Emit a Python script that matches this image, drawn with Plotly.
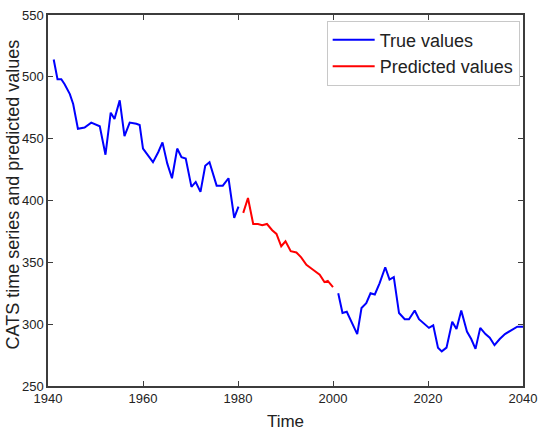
import plotly.graph_objects as go

# True values, first segment
true1_t = [1941.2, 1942.0, 1942.8, 1943.5, 1944.6, 1945.3, 1946.3, 1947.7, 1949.1, 1950.2,
           1950.9, 1952.1, 1953.2, 1954.0, 1955.1, 1956.1, 1957.2, 1958.6, 1959.3, 1960.0,
           1960.8, 1962.1, 1963.2, 1964.1, 1965.1, 1966.1, 1967.2, 1968.1, 1969.0, 1970.2,
           1971.1, 1972.1, 1973.1, 1974.0, 1975.5, 1976.8, 1978.0, 1979.2, 1980.1]
true1_v = [514, 498, 498, 494, 486, 478, 458, 459, 463, 461,
           460, 437, 471, 466, 481, 452, 463, 462, 461, 442,
           438, 431, 439, 447, 430, 418, 442, 435, 434, 411,
           415, 407, 428, 431, 412, 412, 418, 386, 395]

# Predicted values
pred_t = [1981.1, 1982.1, 1983.2, 1984.2, 1985.1, 1986.1, 1987.2, 1988.1, 1989.1, 1990.0,
          1991.1, 1992.3, 1993.3, 1994.4, 1995.8, 1997.2, 1998.2, 1998.9, 2000.0]
pred_v = [390, 402, 381, 381, 380, 381, 376, 373, 363, 367,
          359, 358, 354, 348, 344, 340, 334, 335, 330]

# True values, second segment
true2_t = [2001.1, 2002.0, 2002.9, 2005.1, 2006.0, 2007.0, 2007.9, 2008.8, 2009.8, 2011.0,
           2011.9, 2012.8, 2013.9, 2015.1, 2016.0, 2017.2, 2018.1, 2019.1, 2020.2, 2021.1,
           2022.1, 2022.9, 2023.9, 2025.1, 2026.0, 2027.0, 2028.2, 2029.1, 2030.0, 2031.0,
           2032.1, 2033.0, 2034.0, 2035.1, 2036.2, 2037.5, 2038.8, 2040.0]
true2_v = [325, 309, 310, 292, 313, 317, 325, 324, 333, 346,
           336, 338, 309, 304, 304, 311, 304, 301, 297, 299,
           281, 278, 281, 302, 296, 311, 294, 288, 280, 297,
           292, 289, 283, 288, 292, 295, 298, 298]

x_ticks = [1940, 1960, 1980, 2000, 2020, 2040]
y_ticks = [250, 300, 350, 400, 450, 500, 550]

FONT = "Liberation Sans, Arial, Helvetica, sans-serif"
AX = "#3c3c3c"

fig = go.Figure()
fig.add_trace(go.Scatter(x=true1_t, y=true1_v, mode="lines", name="True values",
                         line=dict(color="#0000ff", width=2), legendgroup="t"))
fig.add_trace(go.Scatter(x=pred_t, y=pred_v, mode="lines", name="Predicted values",
                         line=dict(color="#ff0000", width=2)))
fig.add_trace(go.Scatter(x=true2_t, y=true2_v, mode="lines", name="True values",
                         line=dict(color="#0000ff", width=2), legendgroup="t",
                         showlegend=False))

axis_common = dict(showgrid=False, zeroline=False, showline=True, linecolor=AX, linewidth=1.5,
                   mirror="ticks", ticks="inside", ticklen=5, tickwidth=1, tickcolor=AX,
                   automargin=False,
                   tickfont=dict(family=FONT, size=13, color="#222"))

fig.update_xaxes(range=[1940, 2040], tickvals=x_ticks, ticktext=[str(v) for v in x_ticks],
                 title=dict(text="Time", font=dict(family=FONT, size=17, color="#222"), standoff=10),
                 **axis_common)
fig.update_yaxes(range=[250, 550], tickvals=y_ticks, ticktext=[str(v) for v in y_ticks],
                 **axis_common)

fig.add_annotation(text="CATS time series and predicted values", textangle=-90,
                   xref="paper", yref="paper", x=0, y=0.5, xanchor="center", yanchor="middle",
                   xshift=-36, yshift=6, showarrow=False,
                   font=dict(family=FONT, size=18, color="#222"))

fig.update_layout(
    width=538, height=434,
    margin=dict(l=48, r=15, t=15, b=48, autoexpand=False),
    paper_bgcolor="white", plot_bgcolor="white",
    showlegend=True,
    legend=dict(x=0.993, y=0.985, xanchor="right", yanchor="top",
                bgcolor="white", bordercolor="#c8c8c8", borderwidth=1,
                font=dict(family=FONT, size=18, color="#222"),
                tracegroupgap=0, itemwidth=42),
)

fig.write_html("out.html")
